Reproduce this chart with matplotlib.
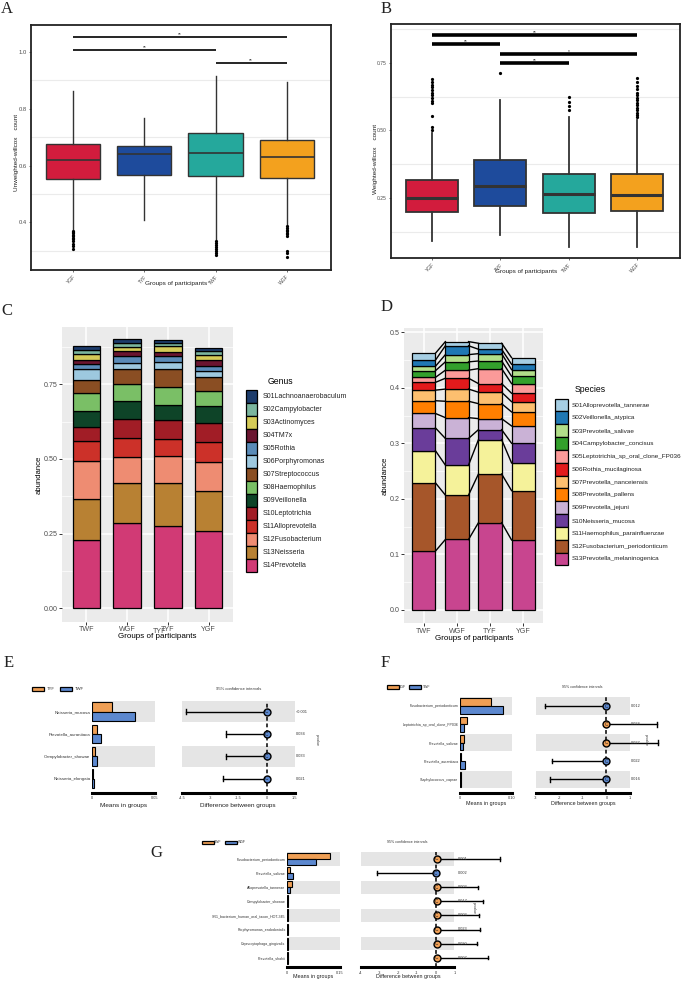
import numpy as np
import matplotlib
matplotlib.use('Agg')
import matplotlib.pyplot as plt
from matplotlib.patches import Rectangle

plt.rcParams['font.family'] = ['Liberation Sans', 'DejaVu Sans']

W, H = 685, 981

# ---------------- data ----------------
# A / B : beta diversity boxplots
groups_ab = ['YGF', 'TYF', 'TWF', 'WGF']
colors_ab = ['#D21C3D', '#1E4B9C', '#25A89C', '#F3A11E']

a_whislo = [0.375, 0.409, 0.340, 0.393]
a_q1 = [0.553, 0.566, 0.562, 0.557]
a_med = [0.618, 0.640, 0.644, 0.630]
a_q3 = [0.677, 0.670, 0.715, 0.691]
a_whishi = [0.863, 0.767, 0.916, 0.895]
a_fliers = [[0.371, 0.366, 0.361, 0.356, 0.351, 0.346, 0.340, 0.333, 0.325, 0.316, 0.305],
            [],
            [0.334, 0.327, 0.320, 0.313, 0.306, 0.299, 0.292, 0.286],
            [0.386, 0.380, 0.374, 0.369, 0.364, 0.359, 0.352, 0.300, 0.291, 0.278]]
a_sig = [(0, 3, 1.053, '**'), (0, 2, 1.006, '**'), (2, 3, 0.961, '**')]

b_whislo = [0.092, 0.112, 0.067, 0.067]
b_q1 = [0.197, 0.220, 0.196, 0.203]
b_med = [0.250, 0.294, 0.264, 0.262]
b_q3 = [0.317, 0.391, 0.338, 0.340]
b_whishi = [0.492, 0.613, 0.549, 0.539]
b_fliers = [[0.503, 0.512, 0.555, 0.600, 0.610, 0.620, 0.630, 0.640, 0.650, 0.660, 0.670, 0.680, 0.690],
            [0.713],
            [0.576, 0.590, 0.607, 0.623],
            [0.548, 0.557, 0.566, 0.575, 0.584, 0.593, 0.602, 0.611, 0.620, 0.630, 0.640,
             0.652, 0.665, 0.678, 0.693]]
b_sig = [(0, 3, 0.855, '**'), (0, 1, 0.819, '**'), (1, 3, 0.784, '*'), (1, 2, 0.749, '**')]

# C : genus composition
stack_groups = ['TWF', 'WGF', 'TYF', 'YGF']
genus_names = ['S01Lachnoanaerobaculum', 'S02Campylobacter', 'S03Actinomyces', 'S04TM7x',
               'S05Rothia', 'S06Porphyromonas', 'S07Streptococcus', 'S08Haemophilus',
               'S09Veillonella', 'S10Leptotrichia', 'S11Alloprevotella', 'S12Fusobacterium',
               'S13Neisseria', 'S14Prevotella']
genus_colors = ['#1D3C6C', '#7BB59E', '#D5CB58', '#6B1530', '#5A8BB8', '#9DC8DF', '#8A4E23',
                '#7ABF66', '#0E4428', '#A11D26', '#CC3129', '#EE8C72', '#B88133', '#D13A75']
genus_TWF = [0.013, 0.013, 0.018, 0.015, 0.016, 0.036, 0.044, 0.061, 0.055, 0.046, 0.068, 0.126, 0.138, 0.228]
genus_WGF = [0.012, 0.013, 0.015, 0.015, 0.023, 0.021, 0.052, 0.055, 0.061, 0.064, 0.064, 0.086, 0.133, 0.287]
genus_TYF = [0.009, 0.012, 0.019, 0.015, 0.019, 0.023, 0.060, 0.062, 0.050, 0.064, 0.056, 0.092, 0.143, 0.275]
genus_YGF = [0.010, 0.016, 0.017, 0.019, 0.016, 0.022, 0.045, 0.051, 0.056, 0.063, 0.069, 0.096, 0.135, 0.258]

# D : species composition
species_names = ['S01Alloprevotella_tannerae', 'S02Veillonella_atypica', 'S03Prevotella_salivae',
                 'S04Campylobacter_concisus', 'S05Leptotrichia_sp_oral_clone_FP036',
                 'S06Rothia_mucilaginosa', 'S07Prevotella_nanceiensis', 'S08Prevotella_pallens',
                 'S09Prevotella_jejuni', 'S10Neisseria_mucosa', 'S11Haemophilus_parainfluenzae',
                 'S12Fusobacterium_periodonticum', 'S13Prevotella_melaninogenica']
species_colors = ['#A6CEE3', '#1F78B4', '#B2DF8A', '#33A02C', '#FB9A99', '#E31A1C', '#FDBF6F',
                  '#FF7F00', '#CAB2D6', '#6A3D9A', '#F5F29A', '#A6562A', '#C8458F']
species_TWF = [0.0125, 0.011, 0.008, 0.012, 0.009, 0.014, 0.019, 0.023, 0.026, 0.041, 0.058, 0.123, 0.106]
species_WGF = [0.0075, 0.016, 0.013, 0.015, 0.0145, 0.0195, 0.022, 0.0295, 0.0375, 0.048, 0.054, 0.080, 0.127]
species_TYF = [0.0108, 0.0079, 0.0132, 0.0138, 0.027, 0.0155, 0.0206, 0.027, 0.0198, 0.018, 0.0619, 0.0877, 0.1573]
species_YGF = [0.012, 0.0096, 0.012, 0.0132, 0.0174, 0.0151, 0.0185, 0.0253, 0.0312, 0.0354, 0.0499, 0.0889, 0.1261]

# E : TYF vs TWF
e_groups = ['TYF', 'TWF']
e_names = ['Neisseria_mucosa', 'Prevotella_aurantiaca', 'Campylobacter_showae', 'Neisseria_elongata']
e_mean1 = [0.0156, 0.0037, 0.0020, 0.0008]
e_mean2 = [0.0340, 0.0074, 0.0037, 0.0012]
e_est = [0.0, 0.0, 0.0, 0.0]
e_lo = [-4.30, -2.16, -2.18, -2.34]
e_hi = [0.0, 0.0, 0.0, 0.0]
e_p = ['<0.001', '0.034', '0.033', '0.021']

# F : YGF vs TWF
f_groups = ['YGF', 'TWF']
f_names = ['Fusobacterium_periodonticum', 'Leptotrichia_sp_oral_clone_FP036', 'Prevotella_salivae',
           'Prevotella_aurantiaca', 'Staphylococcus_caprae']
f_mean1 = [0.060, 0.0128, 0.0083, 0.0020, 0.0015]
f_mean2 = [0.082, 0.0070, 0.0064, 0.0092, 0.0025]
f_est = [0.0, 0.0, 0.0, 0.0, 0.0]
f_lo = [-2.60, 0.0, 0.0, -2.33, -2.40]
f_hi = [0.0, 2.13, 2.18, 0.0, 0.0]
f_p = ['0.012', '0.024', '0.027', '0.022', '0.016']

# G : TWF vs WGF
g_groups = ['TWF', 'WGF']
g_names = ['Fusobacterium_periodonticum', 'Prevotella_salivae', 'Alloprevotella_tannerae',
           'Campylobacter_showae', 'SR1_bacterium_human_oral_taxon_HOT-345',
           'Porphyromonas_endodontalis', 'Capnocytophaga_gingivalis', 'Prevotella_shahii']
g_mean1 = [0.1215, 0.0085, 0.0134, 0.003, 0.003, 0.003, 0.003, 0.003]
g_mean2 = [0.0808, 0.0170, 0.0085, 0.002, 0.002, 0.002, 0.002, 0.002]
g_est = [0.05, 0.0, 0.05, 0.05, 0.05, 0.05, 0.05, 0.05]
g_lo = [0.0, -3.15, 0.0, 0.0, 0.0, 0.0, 0.0, 0.0]
g_hi = [3.43, 0.0, 2.28, 2.51, 2.30, 2.37, 2.19, 2.81]
g_p = ['0.001', '0.002', '0.003', '0.017', '0.003', '0.023', '0.030', '0.007']

ORANGE = '#EF9F55'
BLUE = '#5C88CF'

fig = plt.figure(figsize=(W / 100, H / 100), dpi=100)


def px(l, t, r, b):
    return [l / W, 1 - b / H, (r - l) / W, (b - t) / H]


# ---------------- A, B ----------------
def beta_box(rect, ylim, xlim, whislo, q1, med, q3, whishi, fliers, sig,
             yticks, yticklabels, minor, lw_box, lw_med, lw_sig, ytick_fs):
    ax = fig.add_axes(px(*rect))
    stats = []
    for i in range(4):
        stats.append(dict(whislo=whislo[i], q1=q1[i], med=med[i], q3=q3[i],
                          whishi=whishi[i], fliers=fliers[i]))
    bp = ax.bxp(stats, positions=range(1, 5), widths=0.76, patch_artist=True,
                showcaps=False, manage_ticks=False,
                boxprops=dict(edgecolor='#333333', linewidth=lw_box),
                whiskerprops=dict(color='#333333', linewidth=lw_box),
                medianprops=dict(color='#333333', linewidth=lw_med),
                flierprops=dict(marker='o', markersize=1.3, markerfacecolor='black',
                                markeredgecolor='black'))
    for patch, c in zip(bp['boxes'], colors_ab):
        patch.set_facecolor(c)
    for i, j, y, lab in sig:
        ax.plot([i + 1, j + 1], [y, y], color='black', lw=lw_sig, solid_capstyle='butt')
        ax.text((i + j) / 2 + 1, y, lab, ha='center', va='bottom', fontsize=3.5, color='#333333')
    ax.set_xlim(*xlim)
    ax.set_ylim(*ylim)
    ax.set_yticks(yticks, yticklabels)
    ax.set_yticks(minor, minor=True)
    ax.grid(which='minor', axis='y', color='#EBEBEB', lw=0.8)
    ax.set_axisbelow(True)
    ax.set_xticks(range(1, 5), groups_ab, rotation=45, ha='right', rotation_mode='anchor')
    ax.tick_params(axis='both', which='major', length=1.5, width=0.5, color='#333333',
                   labelcolor='#4D4D4D', labelsize=ytick_fs, pad=1.5)
    ax.tick_params(axis='y', which='minor', length=0)
    ax.tick_params(axis='x', labelsize=3.6)
    for s in ax.spines.values():
        s.set_linewidth(1.3)
        s.set_color('#222222')
    return ax


beta_box((31, 25, 331, 270), (0.232, 1.095), (0.41, 4.62), a_whislo, a_q1, a_med, a_q3,
         a_whishi, a_fliers, a_sig, [0.4, 0.6, 0.8, 1.0], ['0.4', '0.6', '0.8', '1.0'],
         [0.3, 0.5, 0.7, 0.9], 1.0, 1.2, 1.2, 4.2)
beta_box((391, 24, 680, 258), (0.028, 0.894), (0.4, 4.63), b_whislo, b_q1, b_med, b_q3,
         b_whishi, b_fliers, b_sig, [0.25, 0.5, 0.75], ['0.25', '0.50', '0.75'],
         [0.125, 0.375, 0.625, 0.875], 1.3, 2.2, 2.6, 3.6)


# ---------------- C, D ----------------
def stack_panel(rect, ylim, vals, colors, width, yticks, yticklabels, minor, links):
    ax = fig.add_axes(px(*rect))
    ax.set_facecolor('#EBEBEB')
    xs = np.arange(1, 5)
    bottom = np.zeros(4)
    n = len(colors)
    for k in range(n - 1, -1, -1):
        h = np.array([v[k] for v in vals])
        ax.bar(xs, h, width, bottom=bottom, color=colors[k], edgecolor='black', lw=0.9, zorder=2)
        bottom = bottom + h
        if links:
            for i in range(3):
                ax.plot([xs[i] + width / 2, xs[i + 1] - width / 2], [bottom[i], bottom[i + 1]],
                        color='black', lw=1.0, zorder=3)
    ax.set_xlim(0.4, 4.6)
    ax.set_ylim(*ylim)
    ax.set_yticks(yticks, yticklabels)
    ax.set_yticks(minor, minor=True)
    ax.set_xticks(xs, stack_groups)
    ax.grid(which='major', color='white', lw=1.1)
    ax.grid(which='minor', axis='y', color='white', lw=0.5)
    ax.set_axisbelow(True)
    for s in ax.spines.values():
        s.set_visible(False)
    ax.tick_params(which='major', length=2, width=0.7, color='#333333', labelcolor='#4D4D4D',
                   labelsize=5.1, pad=1.2)
    ax.tick_params(which='minor', length=0)
    return ax


stack_panel((62, 327, 233, 622), (-0.046, 0.942),
            [genus_TWF, genus_WGF, genus_TYF, genus_YGF], genus_colors, 0.68,
            [0, 0.25, 0.5, 0.75], ['0.00', '0.25', '0.50', '0.75'],
            [0.125, 0.375, 0.625, 0.875], False)
stack_panel((404, 328, 543, 623.3), (-0.024, 0.508),
            [species_TWF, species_WGF, species_TYF, species_YGF], species_colors, 0.7,
            [0, 0.1, 0.2, 0.3, 0.4, 0.5], ['0.0', '0.1', '0.2', '0.3', '0.4', '0.5'],
            [0.05, 0.15, 0.25, 0.35, 0.45], True)


# ---------------- E, F, G ----------------
def diff_panel(names, m1, m2, est, lo, hi, bar_x, ci_x, y0, dy, ybot, bar_max, bar_lab,
               ci_lim, ci_ticks, pvals, p_off, fs_row):
    n = len(names)
    top = y0 - 0.5 * dy
    yb = (ybot - y0) / dy
    axb = fig.add_axes(px(bar_x[0], top, bar_x[1], ybot))
    axc = fig.add_axes(px(ci_x[0], top, ci_x[1], ybot))
    yy = np.arange(n)
    for ax in (axb, axc):
        ax.set_ylim(yb, -0.5)
        ax.patch.set_alpha(0)
        for i in range(0, n, 2):
            ax.axhspan(i - 0.47, i + 0.47, color='#E5E5E5', lw=0, zorder=0)
        for s in ['top', 'right', 'left']:
            ax.spines[s].set_visible(False)
        ax.spines['bottom'].set_linewidth(2.2)
        ax.tick_params(axis='x', length=2, width=1, labelsize=2.8, pad=1.5, color='black',
                       labelcolor='#333333', direction='inout')
    axb.barh(yy - 0.21, m1, height=0.42, color=ORANGE, edgecolor='black', lw=0.8, zorder=2)
    axb.barh(yy + 0.21, m2, height=0.42, color=BLUE, edgecolor='black', lw=0.8, zorder=2)
    axb.set_xlim(0, bar_max)
    axb.set_xticks([0, bar_max], ['0', bar_lab])
    axb.set_yticks(yy, names)
    axb.tick_params(axis='y', length=0, pad=1.2, labelsize=fs_row, labelcolor='#333333')
    axc.set_xlim(*ci_lim)
    axc.set_xticks(ci_ticks, [('%g' % t) for t in ci_ticks])
    axc.set_yticks([])
    axc.axvline(0, color='black', lw=1.1, dashes=(2.5, 1.8), zorder=1)
    for i in range(n):
        axc.plot([lo[i], hi[i]], [i, i], color='black', lw=1.0, zorder=3, clip_on=False)
        for e in (lo[i], hi[i]):
            axc.plot([e, e], [i - 0.12, i + 0.12], color='black', lw=1.0, zorder=3, clip_on=False)
        c = ORANGE if m1[i] > m2[i] else BLUE
        axc.plot(est[i], i, 'o', ms=5, mfc=c, mec='black', mew=1.0, zorder=4, clip_on=False)
        axc.text(est[i], i, 'C', ha='center', va='center', fontsize=3.3, color='#1A1A1A',
                 zorder=5)
        axc.text(1 + p_off, i, pvals[i], transform=axc.get_yaxis_transform(), ha='left',
                 va='center', fontsize=2.8, color='#333333')
    return axb, axc


diff_panel(e_names, e_mean1, e_mean2, e_est, e_lo, e_hi, (92, 155), (182, 294.7),
           711.7, 22.3, 793, 0.05, '0.05', (-4.5, 1.5), [-4.5, -3, -1.5, 0, 1.5],
           e_p, 0.012, 3.2)
diff_panel(f_names, f_mean1, f_mean2, f_est, f_lo, f_hi, (460, 512), (535.8, 630),
           706, 18.35, 793, 0.10, '0.10', (-3, 1), [-3, -2, -1, 0, 1],
           f_p, 0.01, 2.6)
diff_panel(g_names, g_mean1, g_mean2, g_est, g_lo, g_hi, (287.3, 340), (360.7, 454.3),
           859, 14.1, 967.3, 0.15, '0.15', (-4, 1), [-4, -3, -2, -1, 0, 1],
           g_p, 0.04, 2.6)

# ---------------- overlay: letters, labels, legends ----------------
ov = fig.add_axes([0, 0, 1, 1], zorder=20)
ov.set_xlim(0, W)
ov.set_ylim(H, 0)
ov.axis('off')

serif = ['Liberation Serif', 'DejaVu Serif']
for lab, x, y in [('A', 7, 9), ('B', 386, 9), ('C', 7, 311), ('D', 387, 307),
                  ('E', 9, 663), ('F', 385.5, 663), ('G', 156, 853)]:
    ov.text(x, y, lab, fontsize=12, family=serif, ha='center', va='center', color='#222222')

# axis titles A/B
ov.text(17, 152, 'Unweighted-willcox    count', rotation=90, ha='center', va='center', fontsize=4.6,
        color='#222222')
ov.text(176, 283.5, 'Groups of participants', ha='center', va='center', fontsize=4.6, color='#222222')
ov.text(375.5, 159, 'Weighted-willcox    count', rotation=90, ha='center', va='center', fontsize=4.6,
        color='#222222')
ov.text(526.5, 271, 'Groups of participants', ha='center', va='center', fontsize=4.6, color='#222222')

# axis titles C/D
ov.text(39.3, 474.5, 'abundance', rotation=90, ha='center', va='center', fontsize=5.6)
ov.text(157, 636, 'Groups of participants', ha='center', va='center', fontsize=5.8)
ov.text(159.5, 631.5, 'TYF', ha='center', va='center', fontsize=5.1, color='#4D4D4D')
ov.text(385, 476, 'abundance', rotation=90, ha='center', va='center', fontsize=5.6)
ov.text(474, 638.5, 'Groups of participants', ha='center', va='center', fontsize=5.8)

# legends C/D
ov.text(268, 381, 'Genus', ha='left', va='center', fontsize=6.2)
for k, name in enumerate(genus_names):
    y = 390 + k * 13
    ov.add_patch(Rectangle((246, y), 11.3, 13, facecolor=genus_colors[k], edgecolor='black', lw=0.9))
    ov.text(262.7, y + 6.5, name, ha='left', va='center', fontsize=5.0, color='#222222')

ov.text(575, 390, 'Species', ha='left', va='center', fontsize=6.2)
for k, name in enumerate(species_names):
    y = 398.6 + k * 12.83
    ov.add_patch(Rectangle((555, y), 12.7, 12.83, facecolor=species_colors[k], edgecolor='black', lw=0.9))
    ov.text(571.7, y + 6.4, name, ha='left', va='center', fontsize=4.6, color='#222222')

# legends and titles E/F/G
for grp, kx, tx, ky, kh, fs in [(e_groups, (32, 60), (46.5, 74.5), 689, 4.6, 3.0),
                                (f_groups, (386.7, 409), (398.5, 422.5), 687, 3.6, 2.5),
                                (g_groups, (201.7, 225), (214, 237.5), 842.4, 3.6, 2.5)]:
    for j in range(2):
        ov.add_patch(Rectangle((kx[j], ky - kh / 2), 12, kh, facecolor=[ORANGE, BLUE][j],
                               edgecolor='black', lw=0.9))
        ov.text(tx[j], ky, grp[j], ha='left', va='center', fontsize=fs, color='#333333')

for x, y, fs in [(238.3, 689, 3.0), (582.5, 687, 2.6), (407.5, 842.4, 2.6)]:
    ov.text(x, y, '95% confidence intervals', ha='center', va='center', fontsize=fs, color='#333333')

for x, y in [(317, 740), (646, 740), (474, 908)]:
    ov.text(x, y, 'p-value', rotation=270, ha='center', va='center', fontsize=2.6, color='#333333')

for x, y, fs in [(123.5, 805, 4.6), (486, 804, 3.9), (313.5, 976.7, 3.9)]:
    ov.text(x, y, 'Means in groups', ha='center', va='center', fontsize=fs, color='#222222')
for x, y, fs in [(238.3, 806, 4.6), (583, 804, 3.9), (408, 976.7, 3.9)]:
    ov.text(x, y, 'Difference between groups', ha='center', va='center', fontsize=fs, color='#222222')

fig.savefig('out.png', dpi=100)
